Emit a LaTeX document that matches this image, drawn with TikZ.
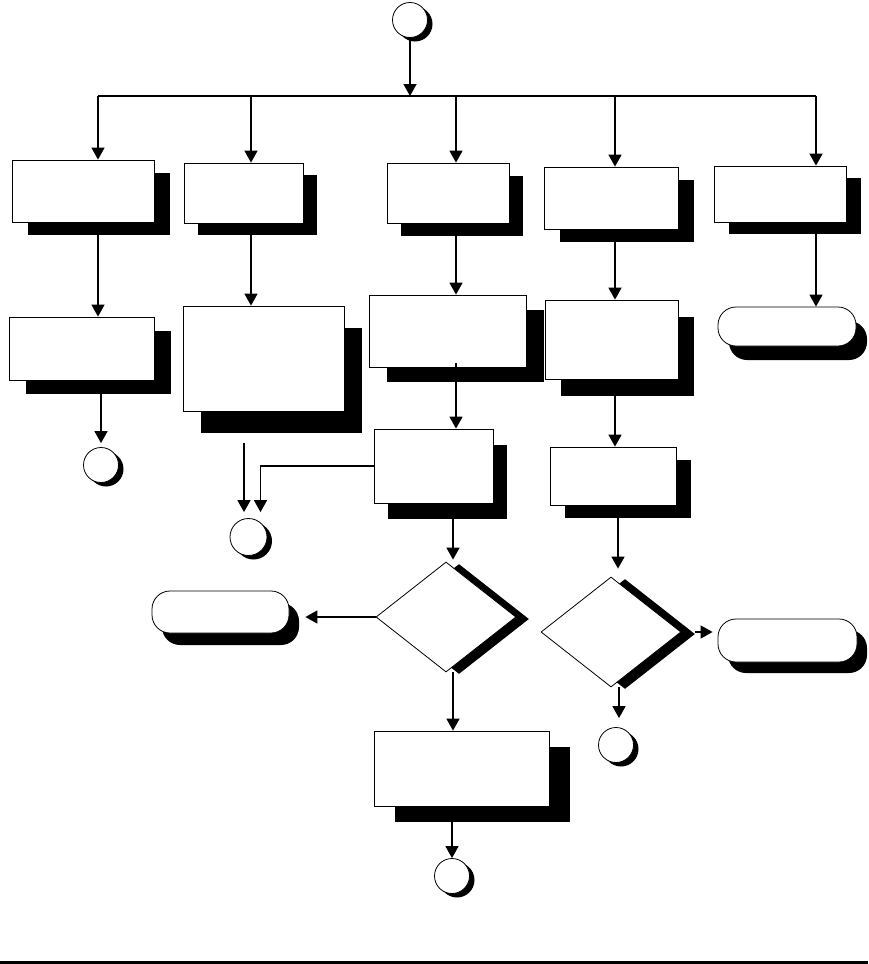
\documentclass[tikz,border=0pt]{standalone}
\usepackage{tikz}
\usetikzlibrary{arrows.meta,shapes.geometric,shadows}

\begin{document}
\begin{tikzpicture}[
	x=1pt, y=-1pt,
	box/.style 2 args={draw, fill=white, line width=.8pt, inner sep=0pt,
		drop shadow={shadow xshift=#1pt, shadow yshift=-#2pt, fill=black, opacity=1}},
	term/.style 2 args={box={#1}{#2}, rounded corners=18pt},
	decision/.style 2 args={box={#1}{#2}, diamond},
	conn/.style={box={5}{4}, circle, minimum size=35pt},
	arr/.style={-{Triangle[width=13pt,length=12pt]}, line width=1.5pt}
	]
	\useasboundingbox (0,0) rectangle (868,964);

	\node[conn] (C0) at (410,20) {};

	\node[box={16}{13}, minimum width=142pt, minimum height=62pt] (B1) at (83,191) {};
	\node[box={14}{12}, minimum width=119pt, minimum height=60pt] (B2) at (243.5,193) {};
	\node[box={14}{13}, minimum width=122pt, minimum height=60pt] (B3) at (448,193) {};
	\node[box={16}{13}, minimum width=134pt, minimum height=62pt] (B4) at (611,198) {};
	\node[box={15}{12}, minimum width=132pt, minimum height=56pt] (B5) at (780,194) {};

	\node[box={17}{14}, minimum width=145pt, minimum height=63pt] (B6) at (81.5,348.5) {};
	\node[box={18}{22}, minimum width=161pt, minimum height=105pt] (B7) at (263.5,358.5) {};
	\node[box={18}{15}, minimum width=157pt, minimum height=72pt] (B8) at (447.5,331) {};
	\node[box={16}{17}, minimum width=133pt, minimum height=79pt] (B9) at (611.5,339.5) {};
	\node[term={11}{14}, minimum width=138pt, minimum height=39pt] (T1) at (787,326.5) {};

	\node[conn] (C1) at (101,465) {};
	\node[box={14}{16}, minimum width=119pt, minimum height=74pt] (B10) at (433.5,466) {};
	\node[box={15}{13}, minimum width=126pt, minimum height=58pt] (B11) at (613,476) {};
	\node[conn, minimum size=37pt] (C2) at (248.5,537) {};

	\node[term={10}{12}, minimum width=137pt, minimum height=42pt] (T2) at (220.5,612) {};
	\node[decision={13}{2}, minimum width=140pt, minimum height=110pt] (D1) at (446,617) {};
	\node[decision={14}{2}, minimum width=140pt, minimum height=110pt] (D2) at (611,632) {};
	\node[term={10}{11}, minimum width=139pt, minimum height=43pt] (T3) at (787.5,640.5) {};

	\node[conn] (C3) at (616,745) {};
	\node[box={21}{16}, minimum width=175pt, minimum height=75pt] (B12) at (461.5,768.5) {};
	\node[conn] (C4) at (452,876) {};

	\coordinate (s1) at (98,96);
	\coordinate (s2) at (251,96);
	\coordinate (s3) at (456,96);
	\coordinate (s4) at (615,96);
	\coordinate (s5) at (816,96);
	\coordinate (g1) at (244,443);
	\coordinate (d1in) at ([xshift=7pt,yshift=2pt]D1.north);
	\coordinate (d1out) at ([xshift=7pt]D1.south);
	\coordinate (d2in) at ([xshift=7pt,yshift=8pt]D2.north);
	\coordinate (d2out) at ([xshift=8pt]D2.south);

	\draw[arr] (C0.south) -- (C0.south |- s1);
	\draw[line width=2pt] (s1) -- (s5);
	\draw[arr] (s1) -- (s1 |- B1.north);
	\draw[arr] (s2) -- (s2 |- B2.north);
	\draw[arr] (s3) -- (s3 |- B3.north);
	\draw[arr] (s4) -- (s4 |- B4.north);
	\draw[arr] (s5) -- (s5 |- B5.north);

	\draw[arr] (s1 |- B1.south) -- (s1 |- B6.north);
	\draw[arr] (s2 |- B2.south) -- (s2 |- B7.north);
	\draw[arr] (s3 |- B3.south) -- (s3 |- B8.north);
	\draw[arr] (s4 |- B4.south) -- (s4 |- B9.north);
	\draw[arr] (s5 |- B5.south) -- (s5 |- T1.north);

	\draw[arr, shorten >=4pt] (C1 |- B6.south) -- (C1.north);
	\draw[arr, shorten >=6pt] (g1) -- (g1 |- C2.north);
	\draw[arr, shorten >=6pt] (B10.west) -| ([xshift=12pt]C2.north);
	\draw[arr] ([yshift=4pt]s3 |- B8.south) -- (s3 |- B10.north);
	\draw[arr] (s4 |- B9.south) -- (s4 |- B11.north);

	\draw[arr] (d1in |- B10.south) -- (d1in);
	\draw[arr] (d2in |- B11.south) -- (d2in);
	\draw[arr] (D1.west) -- ([xshift=16pt]D1.west -| T2.east);
	\draw[arr, shorten >=5pt] ([xshift=14pt]D2.east) -- (D2.east -| T3.west);

	\draw[arr] (d1out) -- (d1out |- B12.north);
	\draw[arr, shorten >=9pt] (d2out) -- (d2out |- C3.north);
	\draw[arr] (C4 |- B12.south) -- (C4.north);

	\draw[line width=2.5pt] (0,962.5) -- (868,962.5);
\end{tikzpicture}
\end{document}
